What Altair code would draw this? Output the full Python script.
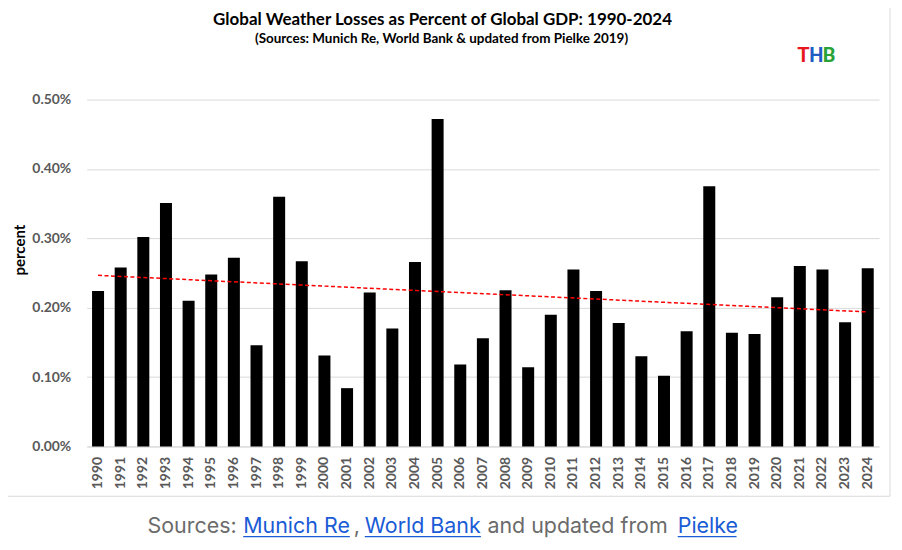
import altair as alt
import pandas as pd

# ---------------- data ----------------
years = list(range(1990, 2025))
losses_pct = [0.224, 0.258, 0.302, 0.351, 0.210, 0.248, 0.272, 0.146, 0.360, 0.267,
              0.131, 0.084, 0.222, 0.170, 0.266, 0.472, 0.118, 0.156, 0.225, 0.114,
              0.190, 0.255, 0.224, 0.178, 0.130, 0.102, 0.166, 0.375, 0.164, 0.162,
              0.215, 0.260, 0.255, 0.179, 0.257]
y_ticks = [0.0, 0.1, 0.2, 0.3, 0.4, 0.5]

title_text = "Global Weather Losses as Percent of Global GDP: 1990-2024"
subtitle_text = "(Sources: Munich Re, World Bank & updated from Pielke 2019)"
y_title_text = "percent"
logo_letters = ["T", "H", "B"]
logo_colors = ["#e8161e", "#1f5cc4", "#27a236"]
footer_parts = ["Sources:", "Munich Re", ",", "World Bank", "and updated from", "Pielke"]
footer_is_link = [False, True, False, True, False, True]

# ---------------- layout (pixels, relative to plot origin) ----------------
W, H = 795, 348
PAD_L, PAD_T = 79, 91
OX, OY = PAD_L + 8, PAD_T + 8          # plot origin on the page

footer_x_page = [148, 244, 355, 366, 489, 680]
footer_end_page = [None, 351, None, 482.5, None, 739]
footer_base_page = 534
underline_page = 537.5

GRAY_TXT = "#595959"
GRID = "#d9d9d9"
FOOT_GRAY = "#6b6b6b"
LINK_BLUE = "#1a5bd6"
FONT = "Lato"

df = pd.DataFrame({"year": years, "pct": losses_pct})
one = pd.DataFrame({"k": [0]})

x_enc = alt.X(
    "year:O",
    scale=alt.Scale(paddingInner=0.47, paddingOuter=0.235),
    axis=alt.Axis(
        title=None, labelAngle=270, ticks=False, domain=True, domainColor=GRID,
        labelFont=FONT, labelFontWeight="bold", labelFontSize=14,
        labelColor=GRAY_TXT, labelPadding=10,
    ),
)
y_enc = alt.Y(
    "pct:Q",
    scale=alt.Scale(domain=[0, 0.5]),
    axis=alt.Axis(
        title=None, values=y_ticks, labelExpr="format(datum.value, '.2f') + '%'",
        grid=True, gridColor=GRID, gridWidth=1, domain=False, ticks=False,
        labelFont=FONT, labelFontWeight="bold", labelFontSize=14,
        labelColor=GRAY_TXT, labelPadding=16,
    ),
)

bars = alt.Chart(df).mark_bar(color="black").encode(x=x_enc, y=y_enc)

trend = (
    alt.Chart(df)
    .transform_regression("year", "pct")
    .mark_line(color="#ff0000", strokeDash=[4, 2.5], strokeWidth=1.5)
    .encode(x="year:O", y="pct:Q")
)

layers = [bars, trend]

# titles
layers.append(
    alt.Chart(one).mark_text(text=title_text, font=FONT, fontSize=17, fontWeight="bold",
                             color="black", align="center", baseline="alphabetic")
    .encode(x=alt.value(444 - OX), y=alt.value(24 - OY))
)
layers.append(
    alt.Chart(one).mark_text(text=subtitle_text, font=FONT, fontSize=13.5, fontWeight="bold",
                             color="black", align="center", baseline="alphabetic")
    .encode(x=alt.value(443 - OX), y=alt.value(42 - OY))
)
# y title
layers.append(
    alt.Chart(one).mark_text(text=y_title_text, font=FONT, fontSize=15, fontWeight="bold",
                             color="black", align="center", baseline="middle", angle=270)
    .encode(x=alt.value(20 - OX), y=alt.value(250 - OY))
)
# logo
logo_cx = [806, 819, 832]
for letter, col, cx in zip(logo_letters, logo_colors, logo_cx):
    layers.append(
        alt.Chart(one).mark_text(text=letter, font="Roboto", fontSize=20,
                                 fontWeight="bold", color=col, align="center",
                                 baseline="alphabetic")
        .encode(x=alt.value(cx - OX), y=alt.value(61 - OY))
    )

# chart frame (right and bottom edges)
layers.append(
    alt.Chart(one).mark_rule(color=GRID, strokeWidth=1)
    .encode(x=alt.value(893 - OX), y=alt.value(-OY), y2=alt.value(497 - OY))
)
layers.append(
    alt.Chart(one).mark_rule(color=GRID, strokeWidth=1)
    .encode(x=alt.value(-OX), x2=alt.value(893 - OX), y=alt.value(497 - OY))
)

# footer
for part, link, x0, x1 in zip(footer_parts, footer_is_link, footer_x_page, footer_end_page):
    layers.append(
        alt.Chart(one).mark_text(text=part, font="Inter", fontSize=21.5,
                                 color=LINK_BLUE if link else FOOT_GRAY,
                                 align="left", baseline="alphabetic")
        .encode(x=alt.value(x0 - OX), y=alt.value(footer_base_page - OY))
    )
    if link:
        layers.append(
            alt.Chart(one).mark_rule(color=LINK_BLUE, strokeWidth=1.2)
            .encode(x=alt.value(x0 - OX), x2=alt.value(x1 - OX),
                    y=alt.value(underline_page - OY))
        )

chart = (
    alt.layer(*layers)
    .properties(
        width=W, height=H,
        autosize=alt.AutoSizeParams(type="none"),
        padding={"left": PAD_L, "top": PAD_T, "right": 15, "bottom": 95},
    )
    .configure_view(strokeWidth=0)
)

chart.save("out.html", embed_options={"renderer": "svg", "actions": False})
